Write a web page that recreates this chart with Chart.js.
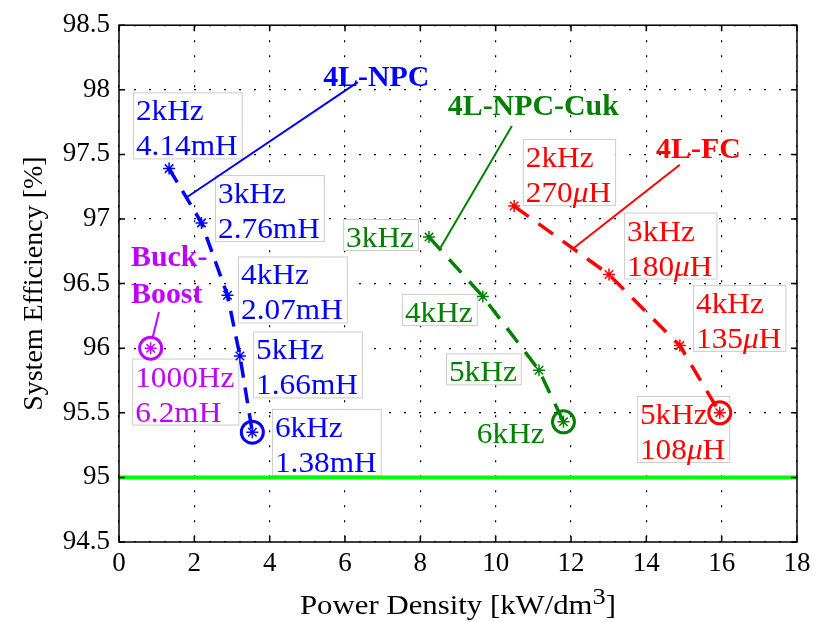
<!DOCTYPE html>
<html>
<head>
<meta charset="utf-8">
<script src="https://cdn.jsdelivr.net/npm/chart.js@4.4.1/dist/chart.umd.min.js"></script>
<style>
  html, body { margin: 0; padding: 0; background: #fff; }
  canvas { display: block; }
</style>
</head>
<body>
<canvas id="chart" width="825" height="622"></canvas>
<script>
// values (power density kW/dm3, efficiency %)
const npcX = [1.33, 2.19, 2.88, 3.21, 3.54];
const npcY = [97.39, 96.97, 96.41, 95.94, 95.35];
const cukX = [8.23, 9.66, 11.15, 11.80];
const cukY = [96.86, 96.40, 95.83, 95.43];
const fcX = [10.49, 13.01, 14.89, 15.95];
const fcY = [97.10, 96.57, 96.02, 95.50];
const buckX = [0.84];
const buckY = [96.00];
const limitX = [0, 18];
const limitY = [95, 95];

// callout leader lines, from title to the curve
const npcCallX = [6.34, 1.81];
const npcCallY = [98.06, 97.17];
const cukCallX = [10.43, 8.52];
const cukCallY = [97.72, 96.77];
const fcCallX = [14.89, 12.05];
const fcCallY = [97.42, 96.77];
const buckCallX = [1.06, 0.90];
const buckCallY = [96.28, 96.09];

const xTicks = [0, 2, 4, 6, 8, 10, 12, 14, 16, 18];
const yTicks = [94.5, 95, 95.5, 96, 96.5, 97, 97.5, 98, 98.5];
const yTickLabels = ['94.5', '95', '95.5', '96', '96.5', '97', '97.5', '98', '98.5'];
const xTitle = ['Power Density [kW/dm', '3', ']'];

const BLUE = '#0000ff';
const GREEN = '#008000';
const RED = '#ff0000';
const PURPLE = '#bf00ff';
const LIME = '#00ff00';
const FONT = '"Liberation Serif", "Times New Roman", serif';

// text notes, anchored by box top-left in data units
const notes = [
  { lines: ['4L-NPC'], x: 5.34, y: 98.25, color: BLUE, bold: true },
  { lines: ['4L-NPC-Cuk'], x: 8.65, y: 98.02, color: GREEN, bold: true },
  { lines: ['4L-FC'], x: 14.18, y: 97.69, color: RED, bold: true },
  { lines: ['Buck-', 'Boost'], x: 0.24, y: 96.85, color: PURPLE, bold: true, lh: 37 },
  { lines: ['2kHz', '4.14mH'], x: 0.37, y: 97.98, color: BLUE, box: true },
  { lines: ['3kHz', '2.76mH'], x: 2.55, y: 97.34, color: BLUE, box: true },
  { lines: ['4kHz', '2.07mH'], x: 3.16, y: 96.71, color: BLUE, box: true },
  { lines: ['5kHz', '1.66mH'], x: 3.56, y: 96.13, color: BLUE, box: true },
  { lines: ['6kHz', '1.38mH'], x: 4.06, y: 95.53, color: BLUE, box: true },
  { lines: ['1000Hz', '6.2mH'], x: 0.35, y: 95.92, color: PURPLE, box: true },
  { lines: ['3kHz'], x: 5.95, y: 97.00, color: GREEN, box: true },
  { lines: ['4kHz'], x: 7.51, y: 96.42, color: GREEN, box: true },
  { lines: ['5kHz'], x: 8.68, y: 95.96, color: GREEN, box: true },
  { lines: ['6kHz'], x: 9.42, y: 95.48, color: GREEN },
  { lines: ['2kHz', '270μH'], x: 10.72, y: 97.62, color: RED, box: true },
  { lines: ['3kHz', '180μH'], x: 13.41, y: 97.05, color: RED, box: true },
  { lines: ['4kHz', '135μH'], x: 15.24, y: 96.49, color: RED, box: true },
  { lines: ['5kHz', '108μH'], x: 13.75, y: 95.63, color: RED, box: true },
];

function pts(xs, ys) {
  return xs.map((x, i) => ({ x, y: ys[i] }));
}
function lastPt(xs, ys) {
  return [{ x: xs[xs.length - 1], y: ys[ys.length - 1] }];
}

function seriesLine(xs, ys, color, dash) {
  return {
    data: pts(xs, ys),
    showLine: true,
    borderColor: color,
    borderWidth: 3.5,
    borderDash: dash,
    pointStyle: 'star',
    pointRadius: 6,
    pointBorderColor: color,
    pointBorderWidth: 1.5,
    pointBackgroundColor: color,
  };
}
function ring(xs, ys, color) {
  return {
    data: lastPt(xs, ys),
    showLine: false,
    pointStyle: 'circle',
    pointRadius: 11,
    pointBorderWidth: 3,
    pointBorderColor: color,
    pointBackgroundColor: 'rgba(0,0,0,0)',
  };
}
function leader(xs, ys, color) {
  return {
    data: pts(xs, ys),
    showLine: true,
    borderColor: color,
    borderWidth: 2,
    pointRadius: 0,
  };
}

// the mu in the inductances is set in italic, like TeX
function splitMu(t) {
  const i = t.indexOf('μ');
  if (i < 0) return [[t, false]];
  return [[t.slice(0, i), false], ['μ', true], [t.slice(i + 1), false]];
}
function lineWidth(ctx, t, base) {
  let w = 0;
  splitMu(t).forEach(([s, it]) => {
    ctx.font = (it ? 'italic ' : '') + base;
    w += ctx.measureText(s).width;
  });
  return w;
}

// labels, frame, x title and inward ticks in the MATLAB look
const decor = {
  id: 'decor',
  beforeDatasetsDraw(chart) {
    const { ctx, scales: { x, y } } = chart;
    ctx.save();
    notes.forEach(n => {
      const base = (n.bold ? 'bold ' : '') + '29px ' + FONT;
      const stretch = n.bold ? 1.03 : 1.08;
      const lh = n.lh || 35;
      ctx.textBaseline = 'alphabetic';
      ctx.textAlign = 'left';
      const left = x.getPixelForValue(n.x);
      const top = y.getPixelForValue(n.y);
      const w = Math.max(...n.lines.map(t => lineWidth(ctx, t, base))) * stretch;
      if (n.box) {
        const h = 28 + lh * (n.lines.length - 1) + 3;
        ctx.fillStyle = '#ffffff';
        ctx.fillRect(left, top, w + 7, h);
        ctx.strokeStyle = '#cccccc';
        ctx.lineWidth = 1;
        ctx.strokeRect(left + 0.5, top + 0.5, w + 7, h);
      }
      ctx.fillStyle = n.color;
      n.lines.forEach((t, i) => {
        ctx.save();
        ctx.translate(left + 3, top + 28 + i * lh);
        ctx.scale(stretch, 1);
        let cx = 0;
        splitMu(t).forEach(([s, it]) => {
          ctx.font = (it ? 'italic ' : '') + base;
          ctx.fillText(s, cx, 0);
          cx += ctx.measureText(s).width;
        });
        ctx.restore();
      });
    });
    ctx.restore();
  },
  afterDraw(chart) {
    const { ctx, chartArea: a, scales: { x, y } } = chart;
    ctx.save();
    ctx.strokeStyle = '#000';
    ctx.lineWidth = 1.5;
    ctx.strokeRect(a.left, a.top, a.right - a.left, a.bottom - a.top);
    ctx.beginPath();
    xTicks.forEach(v => {
      const px = x.getPixelForValue(v);
      ctx.moveTo(px, a.bottom); ctx.lineTo(px, a.bottom - 6);
      ctx.moveTo(px, a.top); ctx.lineTo(px, a.top + 6);
    });
    yTicks.forEach(v => {
      const py = y.getPixelForValue(v);
      ctx.moveTo(a.left, py); ctx.lineTo(a.left + 6, py);
      ctx.moveTo(a.right, py); ctx.lineTo(a.right - 6, py);
    });
    ctx.stroke();

    // x axis title with a full-size raised 3
    const stretch = 1.1;
    const main = '28px ' + FONT;
    const sup = '24px ' + FONT;
    ctx.font = main;
    const w0 = ctx.measureText(xTitle[0]).width;
    const w2 = ctx.measureText(xTitle[2]).width;
    ctx.font = sup;
    const w1 = ctx.measureText(xTitle[1]).width;
    const total = (w0 + w1 + w2) * stretch;
    ctx.translate((a.left + a.right) / 2 - total / 2, 614);
    ctx.scale(stretch, 1);
    ctx.fillStyle = '#000';
    ctx.textBaseline = 'alphabetic';
    ctx.textAlign = 'left';
    ctx.font = main;
    ctx.fillText(xTitle[0], 0, 0);
    ctx.font = sup;
    ctx.fillText(xTitle[1], w0, -10);
    ctx.font = main;
    ctx.fillText(xTitle[2], w0 + w1, 0);
    ctx.restore();
  }
};

const grid = {
  color: '#000',
  lineWidth: 1.2,
  drawTicks: false,
};
const border = { display: false, dash: [2, 13] };

new Chart(document.getElementById('chart'), {
  type: 'scatter',
  data: {
    datasets: [
      { data: pts(limitX, limitY), showLine: true, borderColor: LIME, borderWidth: 4, pointRadius: 0 },
      seriesLine(npcX, npcY, BLUE, [16, 10]),
      seriesLine(cukX, cukY, GREEN, [18, 12]),
      seriesLine(fcX, fcY, RED, [18, 12]),
      seriesLine(buckX, buckY, PURPLE, []),
      ring(npcX, npcY, BLUE),
      ring(cukX, cukY, GREEN),
      ring(fcX, fcY, RED),
      ring(buckX, buckY, PURPLE),
      leader(npcCallX, npcCallY, BLUE),
      leader(cukCallX, cukCallY, GREEN),
      leader(fcCallX, fcCallY, RED),
      leader(buckCallX, buckCallY, PURPLE),
    ],
  },
  options: {
    responsive: false,
    animation: false,
    devicePixelRatio: 1,
    layout: { padding: { top: 22, right: 28, left: 0, bottom: 0 } },
    plugins: {
      legend: { display: false },
      tooltip: { enabled: false },
    },
    scales: {
      x: {
        type: 'linear',
        min: 0,
        max: 18,
        afterBuildTicks: s => { s.ticks = xTicks.map(v => ({ value: v })); },
        afterFit: s => { s.height = 80; },
        ticks: { color: '#000', font: { family: FONT, size: 27 }, padding: 6, maxRotation: 0 },
        grid,
        border,
        title: { display: false },
      },
      y: {
        type: 'linear',
        min: 94.5,
        max: 98.5,
        afterBuildTicks: s => { s.ticks = yTicks.map(v => ({ value: v })); },
        afterFit: s => { s.width = 119; },
        ticks: {
          color: '#000',
          font: { family: FONT, size: 27 },
          padding: 9,
          callback: v => yTickLabels[yTicks.indexOf(v)],
        },
        grid,
        border,
        title: {
          display: true,
          text: 'System Efficiency [%]',
          color: '#000',
          font: { family: FONT, size: 28 },
          padding: { top: 18, bottom: 0 },
        },
      },
    },
  },
  plugins: [decor],
});
</script>
</body>
</html>
